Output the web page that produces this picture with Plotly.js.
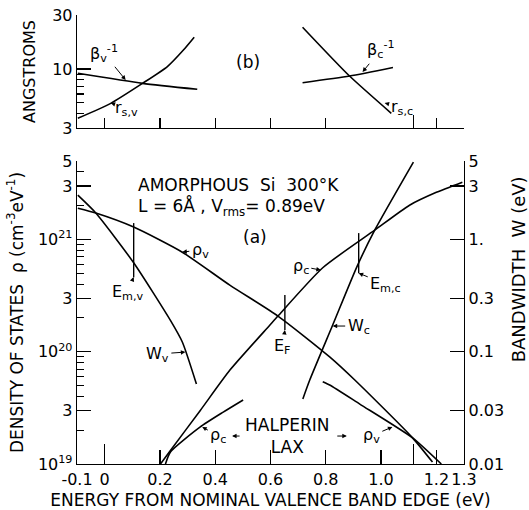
<!DOCTYPE html>
<html>
<head>
<meta charset="utf-8">
<script src="https://cdn.plot.ly/plotly-3.0.1.min.js"></script>
<style>html,body{margin:0;padding:0;background:#fff}#chart{width:529px;height:510px}</style>
</head>
<body>
<div id="chart"></div>
<script>
// ---- data ----
// panel (a): density of states rho (cm^-3 eV^-1) vs energy (eV)
const rhoV_E = [-0.097, -0.032, 0.105, 0.281, 0.454, 0.627, 0.814, 0.905, 1.114, 1.186];
const rhoV   = [1.9e21, 1.72e21, 1.29e21, 7.7e20, 3.9e20, 2.08e20, 9.0e19, 5.6e19, 1.71e19, 1.04e19];
const rhoC_E = [0.202, 0.238, 0.346, 0.454, 0.598, 0.627, 0.789, 0.977, 1.103, 1.2, 1.294];
const rhoC   = [1.0e19, 1.32e19, 3.0e19, 6.9e19, 1.73e20, 2.08e20, 5.6e20, 1.21e21, 2.02e21, 2.63e21, 3.24e21];
// Halperin-Lax curves
const rhoC_HL_E = [0.22, 0.238, 0.346, 0.429, 0.501];
const rhoC_HL   = [1.0e19, 1.28e19, 2.14e19, 2.9e19, 3.72e19];
const rhoV_HL_E = [0.789, 0.814, 0.923, 1.114, 1.218];
const rhoV_HL   = [5.4e19, 5.05e19, 3.42e19, 1.71e19, 1.0e19];
// bandwidths W (eV), right axis
const Wv_E = [-0.097, -0.032, 0.105, 0.238, 0.281, 0.332];
const Wv   = [2.48, 1.72, 0.62, 0.19, 0.122, 0.0515];
const Wc_E = [0.717, 0.742, 0.825, 0.912, 0.977, 1.117];
const Wc   = [0.038, 0.056, 0.173, 0.568, 1.21, 4.89];
// vertical markers E_m,v , E_m,c , E_F
const markE  = [0.105, 0.919, 0.652];
const markHi = [1.4e21, 1.14e21, 3.2e20];
const markLo = [4.6e20, 5.0e20, 1.56e20];
// panel (b): lengths in angstroms
const betaV_E = [-0.097, 0.137, 0.335];
const betaV   = [9.14, 7.45, 6.6];
const rsV_E   = [-0.097, 0.022, 0.137, 0.227, 0.285, 0.324];
const rsV     = [3.66, 4.96, 7.45, 10.5, 14.7, 19.1];
const betaC_E = [0.716, 0.886, 1.043];
const betaC   = [7.55, 8.65, 10.3];
const rsC_E   = [0.716, 0.886, 1.037];
const rsC     = [23.4, 8.65, 4.05];
// ticks
const xTickVals = [-0.1, 0, 0.2, 0.4, 0.6, 0.8, 1.0, 1.2, 1.3];
const xTickText = ['-0.1', '0', '0.2', '0.4', '0.6', '0.8', '1.0', '1.2', '1.3'];
const edgeTicks = [0, 1.117];
const rhoTickVals = [1e19, 3e19, 1e20, 3e20, 1e21, 3e21, 5e21];
const rhoTickText = ['10<sup>19</sup>', '3', '10<sup>20</sup>', '3', '10<sup>21</sup>', '3', '5'];
const rhoMinor = [2e19,4e19,5e19,6e19,7e19,8e19,9e19,2e20,4e20,5e20,6e20,7e20,8e20,9e20,2e21,4e21];
const wTickVals = [0.01, 0.03, 0.1, 0.3, 1, 3, 5];
const wTickText = ['0.01', '0.03', '0.1', '0.3', '1.', '3', '5'];
const angTickVals = [3, 10, 30];
const angTickText = ['3', '10', '30'];
const angMinor = [4, 5, 6, 7, 8, 9];

// ---- drawing ----
const FONT = 'DejaVu Sans, sans-serif';
const line = {color: 'black', width: 1.6, shape: 'spline', smoothing: 0.6};
function tr(x, y, xa, ya, name) {
  return {x: x, y: y, xaxis: xa, yaxis: ya, mode: 'lines', line: line, name: name, hoverinfo: 'skip', showlegend: false};
}
const mx = [], my = [];
markE.forEach((e, i) => { mx.push(e, e, null); my.push(markHi[i], markLo[i], null); });

const data = [
  tr(rhoV_E, rhoV, 'x', 'y', 'rho_v'),
  tr(rhoC_E, rhoC, 'x', 'y', 'rho_c'),
  tr(rhoC_HL_E, rhoC_HL, 'x', 'y', 'rho_c Halperin-Lax'),
  tr(rhoV_HL_E, rhoV_HL, 'x', 'y', 'rho_v Halperin-Lax'),
  tr(Wv_E, Wv, 'x', 'y2', 'W_v'),
  tr(Wc_E, Wc, 'x', 'y2', 'W_c'),
  {x: mx, y: my, xaxis: 'x', yaxis: 'y', mode: 'lines', line: {color: 'black', width: 1.4}, showlegend: false, hoverinfo: 'skip', name: 'markers'},
  tr(betaV_E, betaV, 'x2', 'y3', 'beta_v^-1'),
  tr(rsV_E, rsV, 'x2', 'y3', 'r_s,v'),
  tr(betaC_E, betaC, 'x2', 'y3', 'beta_c^-1'),
  tr(rsC_E, rsC, 'x2', 'y3', 'r_s,c')
];

const base = {showgrid: false, zeroline: false, showline: true, linecolor: 'black', linewidth: 1.3,
  ticks: 'inside', tickcolor: 'black', tickwidth: 1.2, tickfont: {family: FONT, size: 16, color: 'black'}};
const XR = [-0.1, 1.3];
const botDom = [0, 0.6748], topDom = [0.7483, 1];
function mnr(vals, len) { return {tickmode: 'array', tickvals: vals, ticklen: len, ticks: 'inside', tickcolor: 'black', tickwidth: 1.1}; }

const layout = {
  width: 529, height: 510,
  margin: {l: 77, r: 65, t: 15, b: 46},
  paper_bgcolor: 'white', plot_bgcolor: 'white',
  font: {family: FONT, color: 'black', size: 16},
  showlegend: false,
  // bottom panel, bottom edge (labelled)
  xaxis: Object.assign({}, base, {domain: [0, 1], anchor: 'y', range: XR, tickmode: 'array',
    tickvals: xTickVals, ticktext: xTickText, ticklen: 14, minor: mnr(edgeTicks, 20),
    title: {text: 'ENERGY FROM NOMINAL VALENCE BAND EDGE (eV)', font: {family: FONT, size: 17}, standoff: 8}}),
  // bottom panel, top edge
  xaxis3: Object.assign({}, base, {overlaying: 'x', anchor: 'y', side: 'top', range: XR, tickmode: 'array',
    tickvals: edgeTicks, ticklen: 17, minor: mnr([0.6, 0.8, 1.0, 1.2], 5), showticklabels: false}),
  // top panel, bottom edge
  xaxis2: Object.assign({}, base, {domain: [0, 1], anchor: 'y3', range: XR, tickmode: 'array',
    tickvals: [0, 0.2, 0.4, 0.6, 0.8, 1.2], ticklen: 10, minor: mnr([1.117], 13), showticklabels: false}),
  // top panel, top edge
  xaxis4: Object.assign({}, base, {overlaying: 'x2', anchor: 'y3', side: 'top', range: XR, tickmode: 'array',
    tickvals: edgeTicks, ticklen: 17, minor: mnr([0.2, 0.4, 0.6, 0.8, 1.2], 5), showticklabels: false}),
  yaxis: Object.assign({}, base, {domain: botDom, anchor: 'x', type: 'log', range: [19, Math.log10(5e21)],
    tickmode: 'array', tickvals: rhoTickVals, ticktext: rhoTickText, ticklen: 14, minor: mnr(rhoMinor, 7),
    title: {text: 'DENSITY OF STATES  ρ (cm<sup>-3</sup>eV<sup>-1</sup>)', font: {family: FONT, size: 17}, standoff: 10}}),
  yaxis2: Object.assign({}, base, {overlaying: 'y', anchor: 'x', side: 'right', type: 'log', range: [-2, Math.log10(5)],
    tickmode: 'array', tickvals: wTickVals, ticktext: wTickText, ticklen: 14}),
  yaxis3: Object.assign({}, base, {domain: topDom, anchor: 'x2', type: 'log', range: [Math.log10(3), Math.log10(30)],
    tickmode: 'array', tickvals: angTickVals, ticktext: angTickText, ticklen: 14, minor: mnr(angMinor, 7),
    title: {text: 'ANGSTROMS', font: {family: FONT, size: 16}, standoff: 12}}),
  yaxis4: Object.assign({}, base, {overlaying: 'y3', anchor: 'x2', side: 'right', type: 'log', range: [Math.log10(3), Math.log10(30)],
    tickmode: 'array', tickvals: [10], ticklen: 14, showticklabels: false}),
  annotations: []
};

const A = layout.annotations;
function txt(text, x, y, xref, yref, opts) {
  A.push(Object.assign({text: text, x: x, y: y, xref: xref, yref: yref, showarrow: false,
    font: {family: FONT, size: 16, color: 'black'}}, opts || {}));
}
function arr(text, x, y, xref, yref, ax, ay, opts) {
  A.push(Object.assign({text: text, x: x, y: y, xref: xref, yref: yref, showarrow: true, ax: ax, ay: ay,
    arrowhead: 2, arrowsize: 0.9, arrowwidth: 1, arrowcolor: 'black', standoff: 0, startstandoff: 1,
    font: {family: FONT, size: 16, color: 'black'}}, opts || {}));
}
// panel (a) texts
txt('AMORPHOUS  Si  300°K', 0.112, 21.484, 'x', 'y', {xanchor: 'left', font: {family: FONT, size: 17}});
txt('L = 6Å , V<sub>rms</sub>= 0.89eV', 0.112, 21.289, 'x', 'y', {xanchor: 'left', font: {family: FONT, size: 17}});
txt('(a)', 0.544, 21.021, 'x', 'y', {font: {family: FONT, size: 17}});
txt('(b)', 0.519, 1.061, 'x2', 'y3', {font: {family: FONT, size: 17}});
arr('ρ<sub>v</sub>', 0.281, 20.888, 'x', 'y', 18, -2);
arr('E<sub>m,v</sub>', 0.105, 20.665, 'x', 'y', -6, 15);
arr('W<sub>v</sub>', 0.292, -1.003, 'x', 'y2', -28, 2);
arr('ρ<sub>c</sub>', 0.782, 20.727, 'x', 'y', -20, -4);
arr('E<sub>m,c</sub>', 0.919, 20.70, 'x', 'y', 27, 11);
arr('W<sub>c</sub>', 0.825, -0.771, 'x', 'y2', 26, 0);
arr('E<sub>F</sub>', 0.652, 20.193, 'x', 'y', -2, 16);
txt('HALPERIN<br>LAX', 0.659, 19.249, 'x', 'y', {font: {family: FONT, size: 17}});
arr('', 0.461, 19.249, 'x', 'y', 10, 0);
arr('', 0.876, 19.249, 'x', 'y', -12, 0);
arr('ρ<sub>c</sub>', 0.353, 19.33, 'x', 'y', 16, 9);
arr('ρ<sub>v</sub>', 1.041, 19.33, 'x', 'y', -21, 9);
// panel (b) texts
arr('β<sub>v</sub><sup>-1</sup>', 0.076, 0.902, 'x2', 'y3', -22, -27);
arr('r<sub>s,v</sub>', 0.022, 0.698, 'x2', 'y3', 16, 5);
arr('β<sub>c</sub><sup>-1</sup>', 0.933, 0.973, 'x2', 'y3', 18, -22);
arr('r<sub>s,c</sub>', 1.013, 0.698, 'x2', 'y3', 17, 4);
// right-hand axis title
txt('BANDWIDTH  W (eV)', 1.14, 0.434, 'paper', 'paper',
  {textangle: -90, xanchor: 'center', yanchor: 'middle', font: {family: FONT, size: 18}});

Plotly.newPlot('chart', data, layout, {staticPlot: true, displayModeBar: false});
</script>
</body>
</html>
